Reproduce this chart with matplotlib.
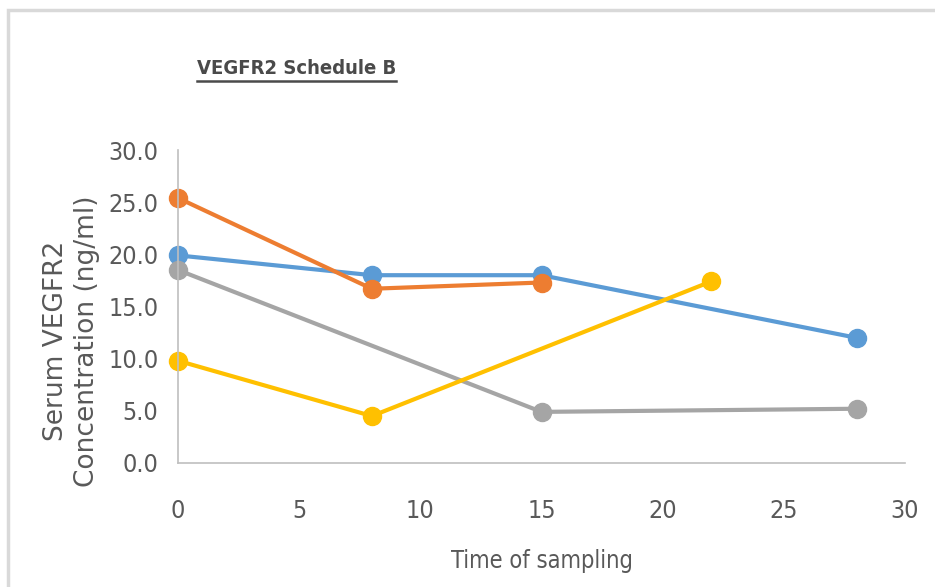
import matplotlib.pyplot as plt
from matplotlib.patches import Rectangle
from matplotlib import font_manager

# data
blue_x = [0, 8, 15, 28]
blue_y = [19.9, 18.0, 18.0, 12.0]
orange_x = [0, 8, 15]
orange_y = [25.4, 16.7, 17.3]
gray_x = [0, 15, 28]
gray_y = [18.5, 4.9, 5.2]
yellow_x = [0, 8, 22]
yellow_y = [9.8, 4.5, 17.4]

x_ticks = [0, 5, 10, 15, 20, 25, 30]
y_ticks = [0, 5, 10, 15, 20, 25, 30]

# narrow font if one is around
fonts = font_manager.fontManager.ttflist
narrow_stretch = 'normal'
narrow = 'DejaVu Sans'
for f in fonts:
    if f.name == 'Liberation Sans Narrow':
        narrow = 'Liberation Sans Narrow'
        break
else:
    for f in fonts:
        if f.name == 'DejaVu Sans' and f.stretch == 'condensed':
            narrow_stretch = 'condensed'
            break

fig = plt.figure(figsize=(9.35, 5.87), dpi=100)
# light frame round the chart
fig.patches.append(Rectangle((8 / 935, -0.05), 1.1, 1 - 10 / 587 + 0.05, transform=fig.transFigure,
                             fill=False, edgecolor='#d9d9d9', linewidth=2.5))

ax = fig.add_axes([178 / 935, 1 - 463 / 587, (905 - 178) / 935, (463 - 150) / 587])

series = [(blue_x, blue_y, '#5b9bd5'), (orange_x, orange_y, '#ed7d31'),
          (gray_x, gray_y, '#a5a5a5'), (yellow_x, yellow_y, '#ffc000')]
for xs, ys, c in series:
    ax.plot(xs, ys, color=c, linewidth=3, marker='o', markersize=13, clip_on=False)

ax.set_xlim(0, 30)
ax.set_ylim(0, 30)
ax.set_xticks(x_ticks)
ax.set_yticks(y_ticks)
ax.set_yticklabels(['%.1f' % v for v in y_ticks])
ax.tick_params(length=0, labelsize=18, labelcolor='#595959')
ax.tick_params(axis='x', pad=26)
ax.tick_params(axis='y', pad=14)
for lab in ax.get_xticklabels() + ax.get_yticklabels():
    lab.set_family(narrow)
    lab.set_stretch(narrow_stretch)

for s in ['top', 'right']:
    ax.spines[s].set_visible(False)
for s in ['left', 'bottom']:
    ax.spines[s].set_color('#bfbfbf')
    ax.spines[s].set_linewidth(1.2)

fig.text(542 / 935, 1 - 568 / 587, 'Time of sampling', fontsize=17, color='#595959', family=narrow,
         stretch=narrow_stretch, ha='center', va='baseline')
fig.text(72 / 935, 1 - 341 / 587, 'Serum VEGFR2\nConcentration (ng/ml)', fontsize=19, color='#595959',
         rotation=90, ha='center', va='center', linespacing=1.25, multialignment='center')

t = fig.text(197 / 935, 1 - 68 / 587, 'VEGFR2 Schedule B', fontsize=14.5, fontweight='bold',
             color='#4a4a4a', family=narrow, stretch=narrow_stretch, va='center')
fig.canvas.draw()
bb = t.get_window_extent()
fig.add_artist(plt.Line2D([bb.x0 / 935, bb.x1 / 935], [(bb.y0 - 3) / 587] * 2, transform=fig.transFigure,
                          color='#4a4a4a', linewidth=1.8))

fig.savefig('out.png', dpi=100)
